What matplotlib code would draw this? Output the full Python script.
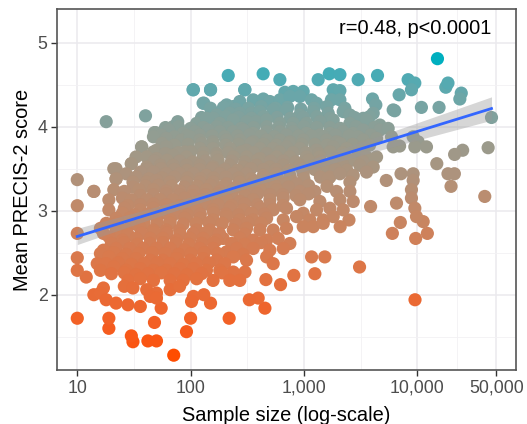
import numpy as np
import matplotlib
matplotlib.use("Agg")
import matplotlib.pyplot as plt
from matplotlib.ticker import FixedLocator, NullFormatter

# Data (sample size, mean PRECIS-2 score)
sample_size = [
    # sparse outer points
    15100, 215, 437, 614, 1337, 1675, 2080, 3015, 4466, 8320, 9530, 8900,
    17900, 18700, 24500, 23800, 15600, 10900, 6930, 6330, 45300, 42300,
    39500, 19900, 21300, 18700, 25200, 21400, 14900, 12300, 11300, 9700,
    9570, 6040, 7100, 6570, 7200, 5340, 3880, 3100, 2500, 2090, 1530, 1250,
    1170, 815, 622, 462, 453, 395, 330, 219, 150, 131, 106, 102, 100, 92,
    71, 50, 42, 48, 31, 30, 19, 19, 10, 14, 12, 10, 10, 10, 10, 10, 14, 18,
    40, 21, 30, 22, 37, 49, 70, 77, 105, 150, 131, 300,
    # dense body, row by row from the top
    106, 150, 302, 680, 805, 986, 1815, 2079,
    129, 208, 238, 272, 357, 438, 501, 614, 752, 922, 1169, 1294, 1750, 2079, 4036, 4317,
    150, 195, 250, 325, 420, 560, 720, 940, 1230, 1600, 2300,
    170, 222, 272, 345, 409, 536, 703, 922, 1209, 1640, 2224, 2548, 3340, 4093, 6141,
    125, 160, 205, 265, 345, 440, 580, 760, 990, 1300, 1700, 2800, 3800,
    113, 138, 181, 238, 312, 382, 469, 614, 805, 1056, 1384, 1815, 2548, 3574, 4687,
    60, 78, 100, 130, 170, 215, 280, 360, 470, 600, 780, 1000, 1300, 1700, 2100, 2900, 4200,
    48, 64, 86, 109, 143, 181, 238, 292, 357, 469, 614, 805, 1056, 1384, 1696, 2224, 2726, 3340, 4687, 5546,
    55, 72, 93, 120, 155, 200, 260, 330, 420, 550, 700, 900, 1170, 1500, 1900, 2500, 3000, 3900,
    47, 61, 83, 99, 121, 158, 208, 272, 357, 469, 614, 752, 986, 1585, 1942, 2548, 3340, 4380, 5940, 9217, 10200,
    56, 72, 95, 125, 160, 205, 265, 340, 440, 570, 740, 960, 1250, 1600, 2100, 2700, 3800,
    37, 50, 61, 89, 121, 158, 222, 312, 409, 536, 703, 922, 1294, 1815, 2380, 3340, 6141, 7000, 9535, 12080,
    47, 60, 78, 100, 130, 170, 215, 280, 360, 470, 610, 800, 1050, 1350, 1700, 2200, 3000,
    33, 41, 50, 70, 92, 129, 170, 238, 312, 409, 574, 752, 1056, 1384, 1942, 2548, 3574, 4380,
    48, 62, 80, 105, 135, 175, 230, 300, 390, 510, 660, 850, 1100, 1400, 1800, 2600, 3300,
    30, 41, 54, 70, 92, 121, 158, 222, 292, 382, 501, 658, 922, 1209, 1585, 2224, 3120, 4093,
    42, 55, 72, 93, 120, 155, 200, 260, 340, 440, 570, 740, 960, 1250, 1900, 2400,
    22, 27, 36, 47, 61, 80, 106, 138, 181, 238, 312, 438, 574, 752, 986, 1696, 2079, 2726, 3574, 9217,
    33, 43, 56, 72, 94, 122, 160, 205, 265, 345, 450, 580, 760, 1000, 1400,
    22, 31, 41, 50, 66, 92, 121, 158, 208, 272, 357, 469, 658, 861, 1640, 2548, 9217,
    31, 40, 52, 68, 88, 115, 150, 195, 255, 330, 430, 560, 730, 1100, 1600,
    14, 21, 26, 35, 47, 61, 80, 106, 138, 181, 238, 312, 409, 574, 922, 1250, 1942, 2548, 8900,
    36, 47, 61, 80, 104, 135, 175, 230, 300, 390, 500, 650, 850, 1100,
    19, 25, 30, 41, 54, 70, 89, 121, 158, 208, 272, 357, 501, 658, 922, 1384, 2079, 2726, 8900,
    28, 36, 47, 61, 80, 104, 135, 175, 230, 300, 390, 500, 650,
    19, 26, 36, 47, 61, 83, 113, 158, 222, 292, 409, 536, 703, 986, 1294, 1696, 2224, 9535,
    25, 32, 42, 55, 72, 94, 122, 160, 205, 265, 345, 450,
    22, 29, 38, 50, 66, 89, 121, 158, 208, 272, 357, 469, 658, 861, 1130, 1482, 1815, 9862,
    18, 23, 30, 39, 51, 66, 86, 112, 145, 190, 250, 320, 420,
    16, 22, 27, 36, 47, 61, 80, 113, 148, 194, 238, 312, 409, 536, 703, 986, 1209, 1482,
    17, 22, 28, 37, 48, 62, 81, 105, 137, 180, 300,
    19, 25, 33, 44, 57, 75, 99, 129, 170, 272, 357, 469, 594, 752,
    20, 26, 34, 44, 57, 74, 96, 125, 160, 230, 300, 420,
    17, 22, 29, 38, 50, 66, 89, 121, 158, 208, 255, 357, 501, 658,
    16, 21, 27, 35, 46, 60, 78, 101, 132, 175, 290,
    15, 19, 25, 33, 44, 57, 75, 99, 129, 170, 238, 312, 469, 536,
    18, 23, 30, 39, 51, 66, 86, 112, 145, 200,
    16, 21, 27, 36, 47, 61, 80, 106, 138, 181, 238, 302,
    20, 26, 33, 42, 55, 72, 93, 125, 190,
    28, 36, 47, 66, 86, 113, 158, 222, 272,
    17, 26, 31, 41, 50, 66, 80,
    16, 18, 22, 28, 36, 44, 55, 50,
]

mean_score = [
    4.81, 4.61, 4.63, 4.56, 4.56, 4.63, 4.62, 4.56, 4.61, 4.56, 4.52, 4.44,
    4.47, 4.52, 4.40, 4.33, 4.23, 4.23, 4.38, 4.19, 4.11, 3.75,
    3.17, 3.29, 3.44, 3.44, 3.72, 3.67, 3.56, 2.73, 2.87, 2.67,
    1.94, 2.73, 2.86, 3.09, 3.44, 3.36, 3.05, 2.33, 2.89, 2.81, 2.45, 2.25,
    2.45, 2.23, 2.12, 2.18, 1.84, 1.96, 1.94, 1.72, 1.90, 2.00, 1.98, 1.92, 1.72, 1.56,
    1.28, 1.45, 1.45, 1.67, 1.44, 1.51, 1.60, 1.72, 1.72, 2.00, 2.21, 2.29, 2.44, 2.73, 3.06, 3.37, 3.23, 4.06,
    4.13, 3.50, 3.56, 3.38, 3.76, 3.93, 4.00, 4.06, 4.44, 4.44, 4.28, 4.44,
    4.44, 4.44, 4.44, 4.41, 4.42, 4.42, 4.44, 4.43,
    4.28, 4.26, 4.24, 4.30, 4.32, 4.33, 4.30, 4.32, 4.36, 4.36, 4.32, 4.28, 4.32, 4.32, 4.33, 4.26,
    4.22, 4.23, 4.21, 4.22, 4.24, 4.22, 4.23, 4.21, 4.22, 4.24, 4.22,
    4.14, 4.16, 4.16, 4.16, 4.18, 4.20, 4.20, 4.14, 4.18, 4.16, 4.18, 4.14, 4.10, 4.16, 4.20,
    4.11, 4.10, 4.12, 4.11, 4.10, 4.12, 4.11, 4.10, 4.11, 4.12, 4.10, 4.11, 4.12,
    4.04, 4.10, 4.04, 4.08, 4.06, 4.06, 4.08, 4.04, 4.04, 4.04, 4.06, 4.08, 4.04, 4.08, 4.02,
    3.99, 4.00, 3.98, 3.99, 4.00, 3.99, 3.98, 3.99, 4.00, 3.99, 3.98, 4.00, 3.99, 3.99, 3.98, 4.00, 3.99,
    3.93, 3.96, 3.92, 3.94, 3.96, 3.94, 3.94, 3.96, 3.92, 3.94, 3.94, 3.94, 3.92, 3.90, 3.92, 3.94, 3.92, 3.96, 3.96, 3.98,
    3.90, 3.88, 3.89, 3.90, 3.89, 3.88, 3.89, 3.90, 3.89, 3.88, 3.90, 3.89, 3.89, 3.88, 3.90, 3.89, 3.88, 3.90,
    3.88, 3.86, 3.84, 3.88, 3.84, 3.82, 3.84, 3.84, 3.82, 3.84, 3.84, 3.82, 3.84, 3.84, 3.82, 3.88, 3.84, 3.86, 3.88, 3.88, 3.82,
    3.80, 3.78, 3.79, 3.80, 3.79, 3.78, 3.79, 3.80, 3.79, 3.78, 3.80, 3.79, 3.79, 3.78, 3.80, 3.79, 3.78,
    3.76, 3.72, 3.76, 3.70, 3.74, 3.74, 3.74, 3.72, 3.74, 3.74, 3.76, 3.74, 3.72, 3.76, 3.74, 3.76, 3.76, 3.77, 3.76, 3.76,
    3.70, 3.68, 3.69, 3.70, 3.69, 3.68, 3.69, 3.70, 3.69, 3.68, 3.70, 3.69, 3.69, 3.68, 3.70, 3.69, 3.68,
    3.64, 3.64, 3.62, 3.66, 3.64, 3.64, 3.64, 3.64, 3.64, 3.62, 3.64, 3.64, 3.64, 3.64, 3.62, 3.60, 3.64, 3.64,
    3.59, 3.60, 3.59, 3.58, 3.59, 3.60, 3.59, 3.58, 3.60, 3.59, 3.59, 3.58, 3.60, 3.59, 3.58, 3.60, 3.59,
    3.56, 3.52, 3.54, 3.54, 3.54, 3.54, 3.52, 3.54, 3.52, 3.54, 3.52, 3.54, 3.54, 3.52, 3.52, 3.54, 3.54, 3.52,
    3.49, 3.50, 3.49, 3.48, 3.49, 3.50, 3.49, 3.48, 3.50, 3.49, 3.49, 3.48, 3.50, 3.49, 3.49, 3.48,
    3.50, 3.44, 3.46, 3.46, 3.44, 3.44, 3.44, 3.42, 3.44, 3.44, 3.44, 3.42, 3.44, 3.42, 3.44, 3.40, 3.44, 3.42, 3.46, 3.44,
    3.40, 3.38, 3.39, 3.40, 3.39, 3.38, 3.39, 3.40, 3.39, 3.38, 3.40, 3.39, 3.39, 3.38, 3.40,
    3.38, 3.34, 3.34, 3.36, 3.34, 3.34, 3.34, 3.34, 3.32, 3.34, 3.34, 3.32, 3.34, 3.32, 3.38, 3.34, 3.36,
    3.28, 3.29, 3.30, 3.29, 3.28, 3.29, 3.30, 3.29, 3.28, 3.30, 3.29, 3.29, 3.28, 3.30, 3.29,
    3.23, 3.25, 3.23, 3.25, 3.25, 3.23, 3.23, 3.23, 3.25, 3.23, 3.25, 3.23, 3.25, 3.25, 3.23, 3.23, 3.23, 3.23, 3.25,
    3.18, 3.19, 3.20, 3.19, 3.18, 3.19, 3.20, 3.19, 3.18, 3.20, 3.19, 3.19, 3.18, 3.20,
    3.13, 3.15, 3.13, 3.13, 3.13, 3.13, 3.15, 3.13, 3.13, 3.13, 3.11, 3.13, 3.13, 3.15, 3.13, 3.11, 3.13, 3.11, 3.15,
    3.06, 3.07, 3.08, 3.07, 3.06, 3.07, 3.08, 3.07, 3.06, 3.08, 3.07, 3.07, 3.06,
    3.01, 3.03, 3.01, 3.03, 3.01, 3.03, 3.01, 3.01, 3.03, 3.01, 3.03, 3.01, 3.03, 2.97, 3.01, 3.03, 3.01, 3.03,
    2.97, 2.95, 2.96, 2.97, 2.96, 2.95, 2.96, 2.97, 2.96, 2.95, 2.97, 2.96,
    2.91, 2.91, 2.89, 2.91, 2.89, 2.91, 2.91, 2.89, 2.93, 2.89, 2.89, 2.91, 2.89, 2.93, 2.89, 2.89, 2.93, 2.93,
    2.85, 2.86, 2.84, 2.85, 2.86, 2.85, 2.84, 2.85, 2.86, 2.85, 2.84, 2.86, 2.85,
    2.79, 2.79, 2.77, 2.79, 2.77, 2.77, 2.77, 2.77, 2.77, 2.67, 2.77, 2.79, 2.77, 2.77, 2.79, 2.81, 2.81, 2.85,
    2.73, 2.74, 2.72, 2.73, 2.74, 2.73, 2.72, 2.73, 2.74, 2.73, 2.72,
    2.69, 2.65, 2.67, 2.67, 2.67, 2.65, 2.67, 2.67, 2.65, 2.67, 2.65, 2.65, 2.67, 2.61,
    2.61, 2.62, 2.60, 2.61, 2.62, 2.61, 2.60, 2.61, 2.62, 2.61, 2.60, 2.62,
    2.53, 2.55, 2.55, 2.55, 2.55, 2.55, 2.53, 2.55, 2.55, 2.51, 2.55, 2.55, 2.53, 2.55,
    2.49, 2.50, 2.48, 2.49, 2.50, 2.49, 2.48, 2.49, 2.50, 2.49, 2.48,
    2.37, 2.45, 2.43, 2.43, 2.41, 2.41, 2.43, 2.41, 2.43, 2.41, 2.45, 2.41, 2.45, 2.37,
    2.37, 2.38, 2.36, 2.37, 2.38, 2.37, 2.36, 2.37, 2.38, 2.37,
    2.29, 2.33, 2.29, 2.31, 2.29, 2.29, 2.31, 2.31, 2.29, 2.29, 2.27, 2.27,
    2.25, 2.26, 2.24, 2.25, 2.26, 2.25, 2.24, 2.25, 2.26,
    2.17, 2.19, 2.17, 2.17, 2.17, 2.19, 2.17, 2.17, 2.17,
    2.08, 2.10, 2.08, 2.06, 2.02, 2.06, 2.10,
    2.02, 1.94, 1.90, 1.88, 1.86, 1.98, 1.84, 1.96,
]

x_ticks = [10, 100, 1000, 10000, 50000]
x_tick_labels = ["10", "100", "1,000", "10,000", "50,000"]
x_minor = [31.6, 316, 3162, 22360]
y_ticks = [2, 3, 4, 5]
y_minor = [1.5, 2.5, 3.5, 4.5]

LOW_COL = "#FF4D00"
HIGH_COL = "#00AFBF"
WHITE = np.array([0.95047, 1.0, 1.08883])
M = np.array([[0.4124, 0.3576, 0.1805],
              [0.2126, 0.7152, 0.0722],
              [0.0193, 0.1192, 0.9505]])


def hex_to_lab(h):
    rgb = np.array([int(h[i:i + 2], 16) for i in (1, 3, 5)]) / 255.0
    lin = np.where(rgb <= 0.04045, rgb / 12.92, ((rgb + 0.055) / 1.055) ** 2.4)
    xyz = M @ lin / WHITE
    f = np.where(xyz > 0.008856, np.cbrt(xyz), 7.787 * xyz + 16 / 116)
    return np.array([116 * f[1] - 16, 500 * (f[0] - f[1]), 200 * (f[1] - f[2])])


def lab_to_rgb(lab):
    L, a, b = lab[:, 0], lab[:, 1], lab[:, 2]
    fy = (L + 16) / 116
    fx = fy + a / 500
    fz = fy - b / 200
    f = np.stack([fx, fy, fz], axis=1)
    xyz = np.where(f ** 3 > 0.008856, f ** 3, (f - 16 / 116) / 7.787) * WHITE
    lin = xyz @ np.linalg.inv(M).T
    lin = np.clip(lin, 0, 1)
    rgb = np.where(lin <= 0.0031308, 12.92 * lin, 1.055 * lin ** (1 / 2.4) - 0.055)
    return np.clip(rgb, 0, 1)


assert len(sample_size) == len(mean_score)
x = np.array(sample_size, dtype=float)
y = np.array(mean_score, dtype=float)

# colour by score, interpolated in Lab like ggplot
t = (y - y.min()) / (y.max() - y.min())
lab = hex_to_lab(LOW_COL)[None, :] * (1 - t[:, None]) + hex_to_lab(HIGH_COL)[None, :] * t[:, None]
colors = lab_to_rgb(lab)

# linear fit on log10(sample size) with 95% CI
lx = np.log10(x)
slope, intercept = np.polyfit(lx, y, 1)
resid = y - (slope * lx + intercept)
s = np.sqrt(np.sum(resid ** 2) / (len(x) - 2))
sxx = np.sum((lx - lx.mean()) ** 2)
grid = np.linspace(lx.min(), lx.max(), 100)
fit = slope * grid + intercept
se = s * np.sqrt(1 / len(x) + (grid - lx.mean()) ** 2 / sxx)

plt.rcParams["font.family"] = ["Liberation Sans", "DejaVu Sans"]

fig = plt.figure(figsize=(5.27, 4.24), dpi=100)
ax = fig.add_axes([0.1087, 0.1274, 0.8704, 0.8507])

ax.scatter(x, y, c=colors, s=90, linewidths=0, zorder=2)
ax.fill_between(10 ** grid, fit - 1.96 * se, fit + 1.96 * se,
                color="#999999", alpha=0.4, linewidth=0, zorder=3)
ax.plot(10 ** grid, fit, color="#3366FF", lw=2, zorder=4)

ax.set_xscale("log")
ax.set_xlim(6.66, 74500)
ax.set_ylim(1.104, 5.398)

ax.xaxis.set_major_locator(FixedLocator(x_ticks))
ax.set_xticklabels(x_tick_labels)
ax.xaxis.set_minor_locator(FixedLocator(x_minor))
ax.xaxis.set_minor_formatter(NullFormatter())
ax.set_yticks(y_ticks)
ax.set_yticks(y_minor, minor=True)

ax.grid(True, which="major", color="#EBEAEE", lw=1.1, zorder=0)
ax.grid(True, which="minor", color="#F2F1F4", lw=0.6, zorder=0)
ax.set_axisbelow(True)

ax.tick_params(which="major", length=4, width=1, color="#333333",
               labelsize=12.8, labelcolor="#4D4D4D", pad=3)
ax.tick_params(which="minor", length=0)
for sp in ax.spines.values():
    sp.set_color("#555555")
    sp.set_linewidth(1.2)

ax.set_xlabel("Sample size (log-scale)", fontsize=14.4, labelpad=7)
ax.set_ylabel("Mean PRECIS-2 score", fontsize=14.4, labelpad=4)

ax.text(9550, 5.175, "r=0.48, p<0.0001", fontsize=14.4, ha="center", va="center")

fig.savefig("out.png", dpi=100)
